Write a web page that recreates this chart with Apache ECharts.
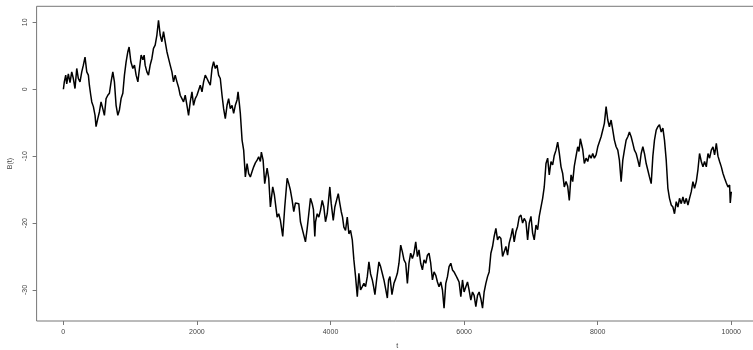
<!DOCTYPE html>
<html>
<head>
<meta charset="utf-8">
<script src="https://cdn.jsdelivr.net/npm/echarts@6/dist/echarts.min.js"></script>
<style>
  html, body { margin: 0; padding: 0; background: #fff; }
  #chart { width: 753px; height: 350px; }
</style>
</head>
<body>
<div id="chart"></div>
<script>
// time steps
const tSteps = [
  1, 15, 36, 51, 75, 100, 126, 150, 175, 201, 225, 250, 276, 300, 325, 351, 375, 390, 411, 426,
  450, 475, 490, 516, 540, 565, 591, 615, 640, 666, 690, 715, 741, 765, 790, 816, 840, 865, 891, 915,
  940, 966, 985, 1011, 1041, 1065, 1090, 1116, 1140, 1165, 1191, 1210, 1225, 1251, 1275, 1300, 1326, 1350, 1375, 1401,
  1425, 1450, 1476, 1500, 1525, 1551, 1575, 1600, 1626, 1650, 1675, 1701, 1725, 1750, 1776, 1800, 1825, 1851, 1875, 1900,
  1926, 1950, 1975, 2001, 2025, 2050, 2076, 2100, 2125, 2151, 2175, 2200, 2226, 2250, 2275, 2301, 2325, 2350, 2376, 2400,
  2425, 2451, 2475, 2500, 2526, 2550, 2575, 2601, 2616, 2635, 2650, 2676, 2700, 2725, 2751, 2775, 2800, 2826, 2850, 2875,
  2901, 2925, 2950, 2965, 2991, 3015, 3051, 3075, 3100, 3135, 3160, 3201, 3225, 3250, 3285, 3315, 3351, 3375, 3400, 3426,
  3450, 3475, 3501, 3525, 3550, 3576, 3600, 3625, 3651, 3675, 3700, 3726, 3745, 3765, 3776, 3801, 3825, 3850, 3876, 3900,
  3925, 3951, 3990, 4011, 4041, 4065, 4090, 4116, 4140, 4161, 4180, 4200, 4225, 4251, 4275, 4300, 4326, 4350, 4375, 4401,
  4425, 4450, 4476, 4500, 4525, 4551, 4575, 4600, 4626, 4645, 4665, 4690, 4725, 4750, 4776, 4800, 4825, 4851, 4870, 4890,
  4920, 4950, 4976, 5001, 5025, 5051, 5076, 5100, 5126, 5151, 5175, 5200, 5226, 5250, 5276, 5301, 5325, 5350, 5376, 5400,
  5426, 5451, 5475, 5500, 5526, 5550, 5576, 5601, 5625, 5651, 5676, 5700, 5726, 5751, 5775, 5801, 5826, 5850, 5876, 5901,
  5925, 5951, 5976, 6000, 6026, 6051, 6075, 6101, 6126, 6150, 6176, 6201, 6225, 6251, 6276, 6300, 6326, 6351, 6375, 6401,
  6426, 6450, 6476, 6501, 6525, 6551, 6576, 6600, 6626, 6651, 6675, 6701, 6726, 6750, 6776, 6801, 6825, 6851, 6876, 6900,
  6926, 6951, 6975, 7001, 7026, 7050, 7076, 7101, 7125, 7151, 7176, 7200, 7226, 7251, 7275, 7301, 7326, 7350, 7376, 7401,
  7425, 7451, 7476, 7500, 7526, 7551, 7575, 7601, 7626, 7650, 7676, 7701, 7720, 7740, 7776, 7800, 7826, 7851, 7875, 7901,
  7926, 7950, 7976, 8001, 8025, 8051, 8076, 8100, 8126, 8151, 8175, 8201, 8226, 8250, 8276, 8301, 8325, 8351, 8376, 8400,
  8426, 8451, 8475, 8501, 8526, 8550, 8576, 8601, 8625, 8651, 8676, 8700, 8726, 8751, 8775, 8801, 8826, 8850, 8876, 8901,
  8925, 8951, 8976, 9000, 9026, 9051, 9075, 9101, 9126, 9150, 9176, 9201, 9225, 9251, 9276, 9300, 9326, 9351, 9375, 9401,
  9426, 9450, 9476, 9501, 9525, 9551, 9576, 9600, 9626, 9651, 9675, 9701, 9726, 9750, 9776, 9801, 9825, 9851, 9876, 9900,
  9926, 9951, 9975, 9985, 10000
];

// B(t) values, one per time step above
const bValues = [
  0.0, 1.1, 2.1, 0.8, 2.3, 1.0, 2.6, 1.6, 0.1, 3.1, 1.6, 1.1, 2.6, 3.6, 4.8, 2.6, 2.1, 0.6, -0.9, -1.9,
  -2.6, -3.9, -5.6, -4.4, -3.4, -1.9, -2.9, -3.9, -1.4, -0.9, -0.6, 1.1, 2.6, 1.1, -2.4, -3.9, -3.1, -1.4, -0.6, 2.1,
  4.1, 5.6, 6.3, 4.1, 3.1, 3.6, 2.1, 1.1, 3.1, 5.1, 4.4, 5.1, 3.6, 2.6, 2.1, 3.6, 4.6, 6.1, 6.6, 8.1,
  10.3, 8.1, 7.1, 8.6, 7.1, 5.6, 4.6, 3.6, 2.6, 1.1, 2.1, 1.1, 0.3, -0.9, -1.4, -1.9, -0.9, -2.4, -3.9, -1.9,
  -0.4, -2.4, -1.4, -0.9, -1.1, 0.6, -0.4, 1.1, 2.1, 1.6, 1.1, 0.6, 3.1, 4.1, 3.1, 3.6, 2.1, 1.6, -0.9, -2.9,
  -4.4, -2.4, -1.4, -2.9, -2.4, -3.6, -2.4, -1.6, -0.4, -2.1, -3.6, -7.6, -9.1, -13.1, -11.1, -12.6, -13.1, -12.3, -11.6, -11.0,
  -10.6, -10.1, -10.8, -9.4, -10.6, -14.1, -11.8, -13.3, -17.6, -14.6, -15.8, -19.1, -18.6, -19.6, -22.0, -17.6, -13.3, -14.1, -15.1, -16.6,
  -18.3, -17.0, -16.8, -17.1, -19.8, -20.0, -21.8, -22.8, -20.8, -18.6, -16.3, -17.1, -18.0, -22.0, -19.8, -18.6, -19.1, -18.1, -16.6, -17.6,
  -19.8, -18.6, -14.6, -17.1, -19.6, -17.6, -17.6, -15.6, -17.1, -18.3, -19.1, -20.6, -21.1, -19.1, -21.6, -21.1, -22.5, -25.5, -28.0, -31.0,
  -27.5, -30.0, -29.5, -29.0, -29.5, -28.0, -25.8, -27.6, -28.5, -29.5, -30.7, -28.5, -25.8, -26.5, -26.3, -28.5, -29.8, -31.2, -28.5, -28.0,
  -30.7, -29.0, -28.3, -27.5, -26.0, -23.3, -24.3, -25.5, -26.0, -29.0, -26.0, -24.5, -25.3, -24.5, -22.8, -25.0, -24.0, -26.0, -27.0, -25.5,
  -26.0, -24.8, -24.5, -26.0, -28.5, -27.3, -27.8, -28.8, -29.5, -28.8, -30.0, -32.7, -29.0, -28.0, -26.5, -26.0, -27.0, -27.3, -27.8, -28.3,
  -28.8, -31.0, -28.5, -30.3, -29.5, -28.8, -30.0, -31.5, -30.3, -30.8, -32.5, -30.8, -30.3, -31.3, -32.7, -30.3, -29.0, -28.0, -27.3, -24.5,
  -23.5, -22.0, -20.8, -22.5, -22.0, -22.3, -25.0, -24.3, -23.5, -24.8, -23.0, -22.0, -20.8, -22.8, -21.3, -20.5, -19.1, -18.8, -20.0, -19.3,
  -19.8, -22.5, -20.0, -19.0, -21.5, -22.5, -20.3, -21.0, -19.0, -17.6, -16.3, -14.6, -11.1, -10.3, -12.8, -10.8, -11.3, -9.9, -9.1, -7.9,
  -9.5, -11.6, -12.6, -14.6, -13.8, -14.5, -16.6, -12.8, -13.8, -11.5, -10.0, -8.6, -9.3, -7.4, -9.0, -11.1, -10.3, -10.8, -9.8, -10.3,
  -9.6, -10.3, -9.8, -8.6, -8.8, -7.1, -6.1, -5.1, -2.6, -4.6, -5.6, -4.6, -6.1, -7.6, -8.6, -9.1, -10.6, -13.8, -10.6, -9.1,
  -7.6, -7.1, -6.4, -7.1, -8.1, -9.1, -9.6, -10.6, -11.6, -9.6, -8.6, -9.6, -11.1, -12.1, -13.1, -14.1, -10.0, -7.6, -6.1, -5.6,
  -5.3, -6.4, -5.8, -7.6, -10.6, -14.8, -16.3, -17.3, -17.6, -18.6, -16.8, -17.6, -16.3, -17.1, -16.1, -17.1, -16.3, -17.3, -16.3, -15.3,
  -13.8, -14.8, -13.8, -12.0, -9.6, -10.8, -11.6, -10.8, -11.6, -9.6, -10.3, -9.1, -8.6, -9.8, -8.1, -10.0, -10.8, -11.6, -12.6, -13.3,
  -14.0, -14.6, -14.3, -17.0, -15.3
];

const xTickValues = [0, 2000, 4000, 6000, 8000, 10000];
const xTickLabels = ['0', '2000', '4000', '6000', '8000', '10000'];
const yTickValues = [-30, -20, -10, 0, 10];
const yTickLabels = ['-30', '-20', '-10', '0', '10'];

const points = tSteps.map((t, i) => [t, bValues[i]]);

const chart = echarts.init(document.getElementById('chart'), null, { renderer: 'canvas' });

const labelFont = {
  color: '#444',
  fontSize: 7,
  fontFamily: 'Liberation Sans, Arial, sans-serif'
};

chart.setOption({
  animation: false,
  grid: {
    left: 36.6,
    top: 6.3,
    width: 721.4,
    height: 314.7,
    show: true,
    borderColor: '#777',
    borderWidth: 1,
    containLabel: false,
    outerBoundsMode: 'none'
  },
  xAxis: {
    type: 'value',
    min: -400,
    max: 10400,
    name: 't',
    nameLocation: 'middle',
    nameGap: 22,
    nameTextStyle: labelFont,
    axisLine: { show: false, onZero: false },
    splitLine: { show: false },
    axisTick: {
      show: true,
      length: 4,
      customValues: xTickValues,
      lineStyle: { color: '#777' }
    },
    axisLabel: {
      ...labelFont,
      margin: 8,
      customValues: xTickValues,
      formatter: v => xTickLabels[xTickValues.indexOf(v)]
    }
  },
  yAxis: {
    type: 'value',
    min: -34.63,
    max: 12.39,
    name: 'B(t)',
    nameLocation: 'middle',
    nameRotate: 90,
    nameGap: 22,
    nameTextStyle: labelFont,
    axisLine: { show: false, onZero: false },
    splitLine: { show: false },
    axisTick: {
      show: true,
      length: 4,
      customValues: yTickValues,
      lineStyle: { color: '#777' }
    },
    axisLabel: {
      ...labelFont,
      rotate: 90,
      margin: 8,
      customValues: yTickValues,
      formatter: v => yTickLabels[yTickValues.indexOf(v)]
    }
  },
  series: [{
    type: 'line',
    data: points,
    showSymbol: false,
    lineStyle: { color: '#000', width: 1.5 },
    z: 3
  }]
});
</script>
</body>
</html>
